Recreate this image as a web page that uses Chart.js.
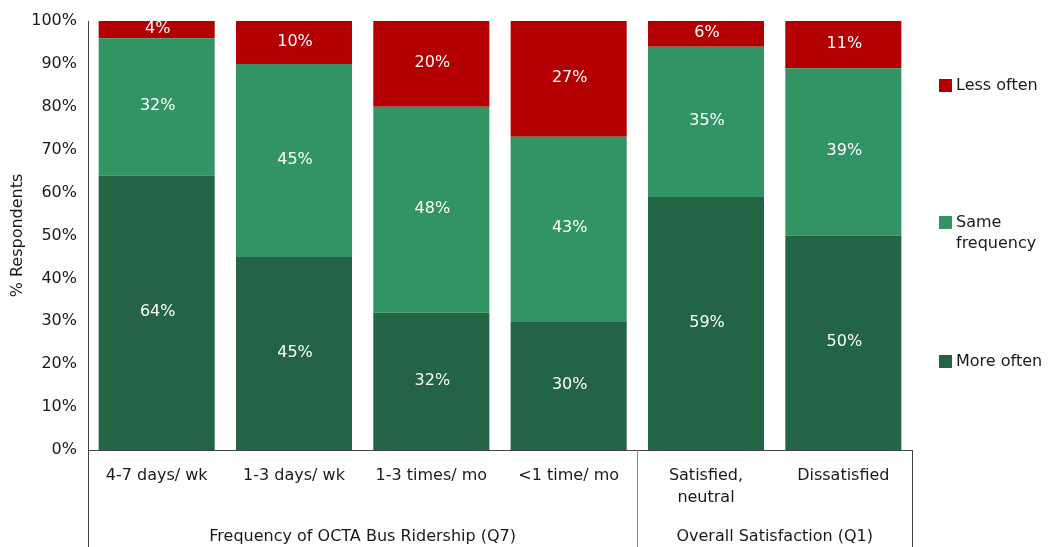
<!DOCTYPE html>
<html lang="en">
<head>
    <meta charset="UTF-8">
    <title>Change in Ridership</title>
    <style>
        body {
            margin: 0;
            background: #ffffff;
        }
        #wrap {
            width: 1048px;
            height: 547px;
        }
    </style>
</head>
<body>
    <div id="wrap"><canvas id="chart" width="1048" height="547"></canvas></div>

    <script src="https://cdn.jsdelivr.net/npm/chart.js"></script>
    <script>
        // categories and groups
        const categories = ['4-7 days/ wk', '1-3 days/ wk', '1-3 times/ mo', '<1 time/ mo', ['Satisfied,', 'neutral'], 'Dissatisfied'];
        const groupLabels = ['Frequency of OCTA Bus Ridership (Q7)', 'Overall Satisfaction (Q1)'];
        const groupSizes = [4, 2];

        // series values (%)
        const moreOften = [64, 45, 32, 30, 59, 50];
        const sameFrequency = [32, 45, 48, 43, 35, 39];
        const lessOften = [4, 10, 20, 27, 6, 11];

        const seriesNames = ['More often', 'Same frequency', 'Less often'];
        const yTicks = [0, 10, 20, 30, 40, 50, 60, 70, 80, 90, 100];

        const FONT = '"DejaVu Sans", Verdana, sans-serif';
        const COLORS = ['#226444', '#329464', '#b30000'];

        // white % labels in the middle of each segment
        const valueLabels = {
            id: 'valueLabels',
            afterDatasetsDraw(chart) {
                const ctx = chart.ctx;
                ctx.save();
                ctx.font = '16px ' + FONT;
                ctx.fillStyle = '#ffffff';
                ctx.textAlign = 'center';
                ctx.textBaseline = 'middle';
                chart.data.datasets.forEach((ds, i) => {
                    chart.getDatasetMeta(i).data.forEach((bar, j) => {
                        const p = bar.getProps(['x', 'y', 'base'], true);
                        ctx.fillText(ds.data[j] + '%', p.x + 1, (p.y + p.base) / 2 - 1);
                    });
                });
                ctx.restore();
            }
        };

        // second level of the category axis + right side legend
        const groupAxis = {
            id: 'groupAxis',
            afterDraw(chart) {
                const ctx = chart.ctx;
                const area = chart.chartArea;
                const x = chart.scales.x;
                const h = chart.height;
                const step = x.getPixelForValue(1) - x.getPixelForValue(0);

                ctx.save();
                ctx.lineWidth = 1;
                // left axis line goes down through the label rows
                ctx.strokeStyle = '#444';
                ctx.beginPath();
                ctx.moveTo(area.left + 0.5, area.bottom);
                ctx.lineTo(area.left + 0.5, h);
                ctx.stroke();

                ctx.font = '16px ' + FONT;
                ctx.fillStyle = '#1a1a1a';
                ctx.textAlign = 'center';
                ctx.textBaseline = 'middle';
                let start = 0;
                groupSizes.forEach((n, g) => {
                    const left = x.getPixelForValue(start) - step / 2;
                    const right = x.getPixelForValue(start + n - 1) + step / 2;
                    ctx.strokeStyle = g === groupSizes.length - 1 ? '#444' : '#888';
                    ctx.beginPath();
                    ctx.moveTo(Math.round(right) + 0.5, area.bottom);
                    ctx.lineTo(Math.round(right) + 0.5, h);
                    ctx.stroke();
                    ctx.fillText(groupLabels[g], (left + right) / 2, 537);
                    start += n;
                });

                // legend
                const legendY = [85, 222, 361];
                const order = [2, 1, 0];
                order.forEach((di, k) => {
                    const ds = chart.data.datasets[di];
                    const y = legendY[k];
                    ctx.fillStyle = ds.backgroundColor;
                    ctx.fillRect(939, y - 6, 13, 13);
                    ctx.fillStyle = '#1a1a1a';
                    ctx.textAlign = 'left';
                    const words = ds.label === 'Same frequency' ? ['Same', 'frequency'] : [ds.label];
                    words.forEach((w, li) => ctx.fillText(w, 956, y + 1 + li * 21));
                });
                ctx.restore();
            }
        };

        new Chart(document.getElementById('chart'), {
            type: 'bar',
            data: {
                labels: categories,
                datasets: [
                    { label: seriesNames[0], data: moreOften, backgroundColor: COLORS[0] },
                    { label: seriesNames[1], data: sameFrequency, backgroundColor: COLORS[1] },
                    { label: seriesNames[2], data: lessOften, backgroundColor: COLORS[2] }
                ]
            },
            options: {
                responsive: false,
                animation: false,
                layout: {
                    padding: { left: 0, right: 136, top: 21, bottom: 0 }
                },
                datasets: {
                    bar: {
                        categoryPercentage: 1,
                        barPercentage: 0.845,
                        borderWidth: 0
                    }
                },
                plugins: {
                    legend: { display: false },
                    tooltip: { enabled: false }
                },
                scales: {
                    x: {
                        stacked: true,
                        grid: { display: false, drawTicks: false },
                        border: { display: true, color: '#444', width: 1 },
                        ticks: {
                            color: '#1a1a1a',
                            padding: 14,
                            maxRotation: 0,
                            autoSkip: false,
                            font: { family: FONT, size: 16, lineHeight: 1.42 }
                        },
                        afterFit(scale) { scale.height = 97; }
                    },
                    y: {
                        stacked: true,
                        min: 0,
                        max: 100,
                        grid: { display: false, drawTicks: false },
                        border: { display: true, color: '#444', width: 1 },
                        afterBuildTicks(scale) {
                            scale.ticks = yTicks.map(v => ({ value: v }));
                        },
                        ticks: {
                            color: '#1a1a1a',
                            padding: 11,
                            font: { family: FONT, size: 16 },
                            callback: v => v + '%'
                        },
                        title: {
                            display: true,
                            text: '% Respondents',
                            color: '#1a1a1a',
                            padding: { top: 8, bottom: 0 },
                            font: { family: FONT, size: 16 }
                        },
                        afterFit(scale) { scale.width = 88; }
                    }
                }
            },
            plugins: [valueLabels, groupAxis]
        });
    </script>
</body>
</html>
